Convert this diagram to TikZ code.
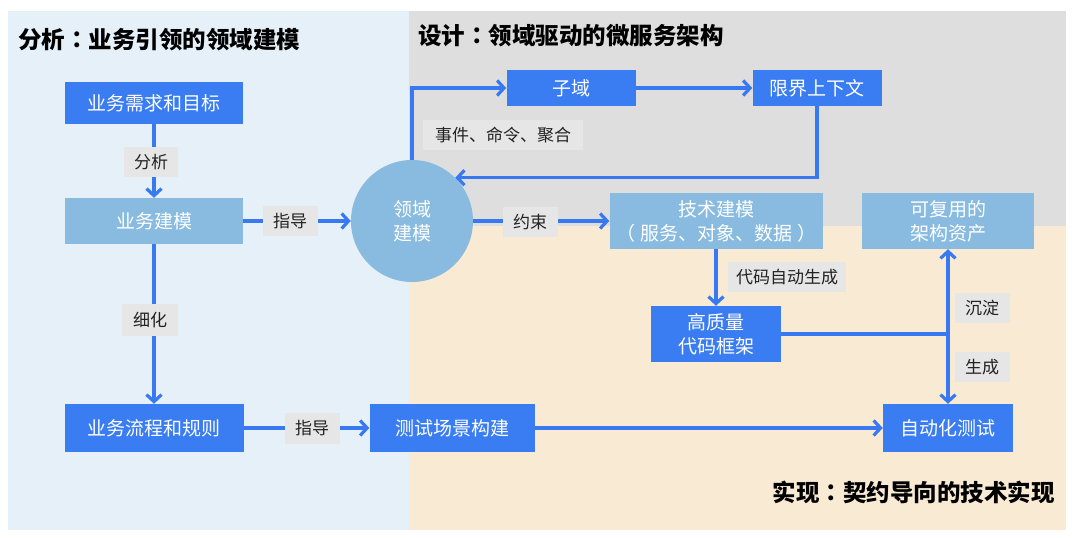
\documentclass[tikz,border=0pt]{standalone}
\usepackage{fontspec}
\setmainfont{Noto Sans CJK SC}
\newfontfamily\tcfont{Noto Sans CJK TC}
\usetikzlibrary{arrows.meta}
\definecolor{darkb}{HTML}{3A7CF2}
\definecolor{lightb}{HTML}{88BBDF}
\definecolor{lblgray}{HTML}{E6E6E6}
\definecolor{panelA}{HTML}{E5F0F8}
\definecolor{panelB}{HTML}{DEDEDE}
\definecolor{panelC}{HTML}{F9EAD4}
\definecolor{arrowc}{HTML}{3879F1}
\definecolor{txtc}{HTML}{222222}
\newcommand{\ccolon}{{\tcfont ：}}
\newcommand{\lpar}{{\tcfont （}\hspace{5pt}}
\newcommand{\rpar}{\hspace{5pt}{\tcfont ）}}
\tikzset{
  dbox/.style={rectangle, fill=darkb, text=white, inner sep=0pt, align=center,
    font=\fontsize{19}{24}\selectfont},
  lbox/.style={dbox, fill=lightb},
  lbl/.style={rectangle, fill=lblgray, text=txtc, inner sep=0pt,
    font=\fontsize{17}{20}\selectfont},
  ttl/.style={text=black, inner sep=0pt, font=\fontsize{23.5}{28}\selectfont\bfseries},
  conn/.style={draw=arrowc, line width=3.2pt},
  arr/.style={conn, -{Straight Barb[length=7pt,width=15pt]}}
}
\begin{document}
\begin{tikzpicture}[x=1pt,y=-1pt]
\useasboundingbox (0,0) rectangle (1080,538);
\fill[white] (0,0) rectangle (1080,538);
\fill[panelA] (8,11) rectangle (409,530);
\fill[panelB] (409,11) rectangle (1066,226);
\fill[panelC] (409,226) rectangle (1066,530);

\node[ttl, anchor=west] (t1) at (18,40) {分析\ccolon 业务引领的领域建模};
\node[ttl, anchor=west] (t2) at (418,36) {设计\ccolon 领域驱动的微服务架构};
\node[ttl, anchor=east] (t3) at (1055,492) {实现\ccolon 契约导向的技术实现};

\node[dbox, minimum width=178pt, minimum height=42pt] (req) at (154,103) {业务需求和目标};
\node[lbox, minimum width=178pt, minimum height=46pt] (bm) at (154,221) {业务建模};
\node[dbox, minimum width=179pt, minimum height=48pt] (flow) at (154,428) {业务流程和规则};
\node[dbox, minimum width=165pt, minimum height=48pt] (test) at (452,428) {测试场景构建};
\node[circle, fill=lightb, text=white, minimum size=122pt, inner sep=0pt, align=center,
  font=\fontsize{19}{24}\selectfont] (dom) at (412,221) {领域\\建模};
\node[dbox, minimum width=129pt, minimum height=36pt] (sub) at (571,88) {子域};
\node[dbox, minimum width=129pt, minimum height=36pt] (bc) at (817,88) {限界上下文};
\node[lbox, minimum width=213pt, minimum height=56pt] (tech) at (716,221) {技术建模\\\lpar 服务、对象、数据\rpar};
\node[lbox, minimum width=172pt, minimum height=56pt] (asset) at (948,221) {可复用的\\架构资产};
\node[dbox, minimum width=130pt, minimum height=56pt] (code) at (716,334) {高质量\\代码框架};
\node[dbox, minimum width=130pt, minimum height=48pt] (auto) at (948,428) {自动化测试};
\coordinate (j) at (948,334);

\draw[arr] (req) -- (bm);
\draw[arr] (bm) -- (flow);
\draw[arr] (bm) -- (dom);
\draw[arr] (dom) -- (tech);
\draw[arr] (dom.north) |- (sub.west);
\draw[arr] (sub) -- (bc);
\draw[arr] (bc.south) |- (dom.45);
\draw[arr] (tech) -- (code);
\draw[conn] (code.east) -- (j);
\draw[arr] (j) -- (asset.south);
\draw[arr] (j) -- (auto.north);
\draw[arr] (flow) -- (test);
\draw[arr] (test) -- (auto);

\node[lbl, minimum width=54pt, minimum height=30pt] (l1) at (151,162) {分析};
\node[lbl, minimum width=55pt, minimum height=30pt] (l2) at (290,221) {指导};
\node[lbl, minimum width=56pt, minimum height=32pt] (l3) at (150,320) {细化};
\node[lbl, minimum width=55pt, minimum height=31pt] (l4) at (312,428) {指导};
\node[lbl, minimum width=55pt, minimum height=30pt] (l5) at (530,222) {约束};
\node[lbl, minimum width=160pt, minimum height=30pt] (l6) at (503,135) {事件、命令、聚合};
\node[lbl, minimum width=118pt, minimum height=30pt] (l7) at (787,277) {代码自动生成};
\node[lbl, minimum width=55pt, minimum height=30pt] (l8) at (982,308) {沉淀};
\node[lbl, minimum width=55pt, minimum height=30pt] (l9) at (982,367) {生成};
\end{tikzpicture}
\end{document}
